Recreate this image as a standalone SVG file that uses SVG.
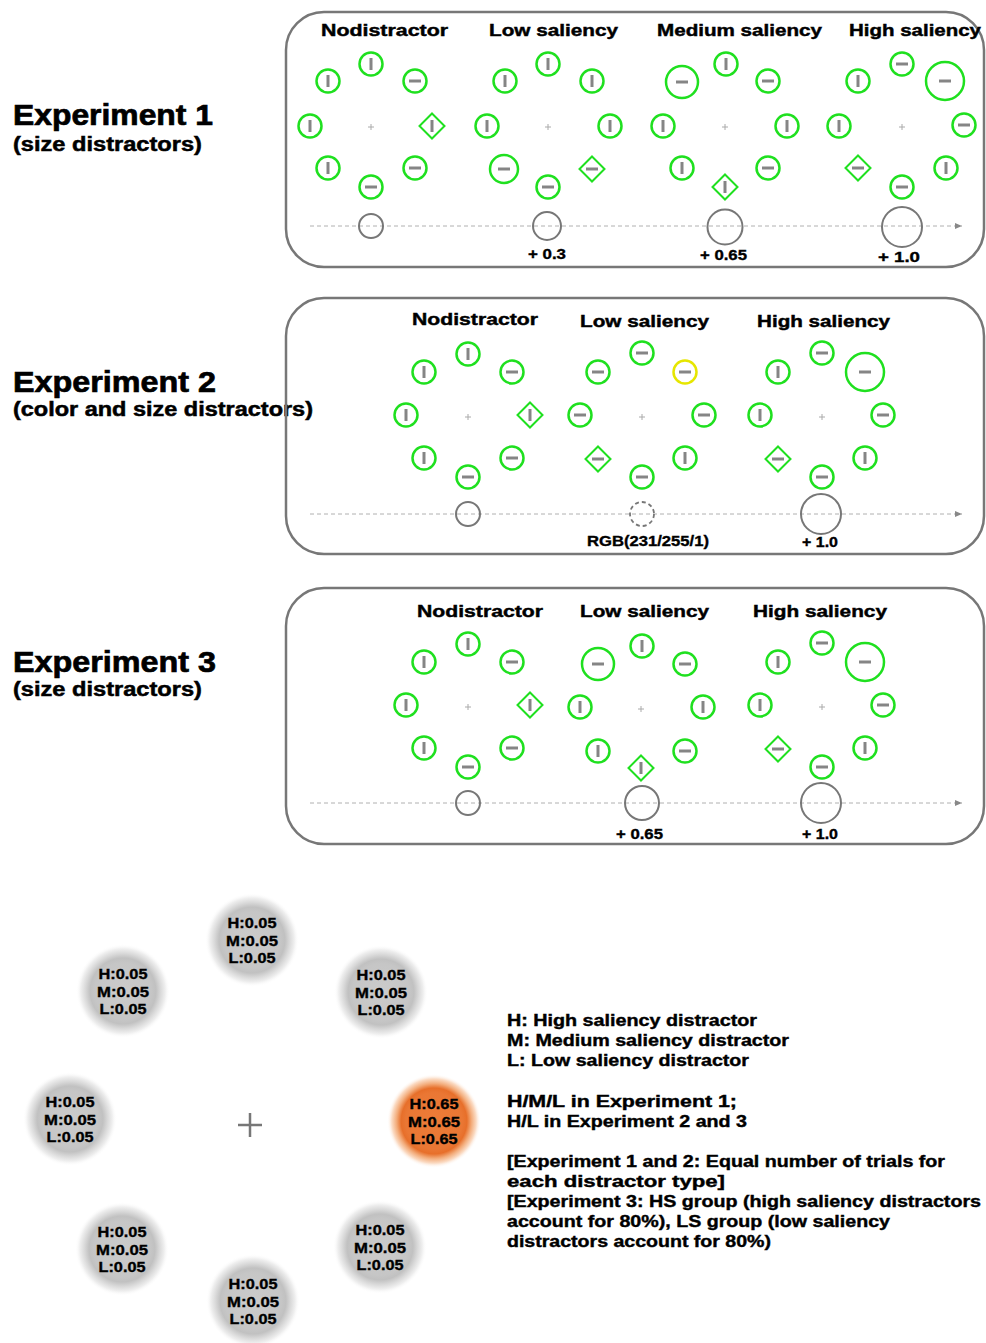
<svg xmlns="http://www.w3.org/2000/svg" xmlns:xlink="http://www.w3.org/1999/xlink" width="986" height="1343" viewBox="0 0 986 1343">
<style>
.g{fill:none;stroke:#1fe01f;stroke-width:2.5}
.gd{fill:none;stroke:#1fe01f;stroke-width:2}
.yl{fill:none;stroke:#e6e600;stroke-width:2.5}
.bar{stroke:#858585;stroke-width:3}
.ax{stroke:#b0b0b0;stroke-width:1;stroke-dasharray:4 3;fill:none}
.ac{fill:none;stroke:#777;stroke-width:2}
.acd{fill:none;stroke:#777;stroke-width:1.8;stroke-dasharray:4 3}
.panel{fill:none;stroke:#777;stroke-width:2.5}
.fx{stroke:#aaa;stroke-width:1}
text{font-family:"Liberation Sans",Arial,sans-serif;font-weight:bold;fill:#000;stroke:#000;stroke-width:0.45}
.t{font-size:17px}
.lb{font-size:14px;stroke-width:0.35}
.big{font-size:29px;stroke-width:0.7}
.sub{font-size:19.5px;stroke-width:0.5}
.bt{font-size:14.5px;text-anchor:middle;stroke-width:0.35}
.nt{font-size:16px;stroke-width:0.4}
</style>
<defs>
<marker id="arr" markerWidth="8" markerHeight="8" refX="7" refY="4" orient="auto" markerUnits="userSpaceOnUse">
<path d="M0,1 L7,4 L0,7 Z" fill="#888"/>
</marker>
<g id="cv"><circle r="11.5" class="g"/><line x1="0" y1="-6" x2="0" y2="6" class="bar"/></g>
<g id="ch"><circle r="11.5" class="g"/><line x1="-6" y1="0" x2="6" y2="0" class="bar"/></g>
<g id="dv"><path d="M0,-12.5 L12.5,0 L0,12.5 L-12.5,0 Z" class="gd"/><line x1="0" y1="-6" x2="0" y2="6" class="bar"/></g>
<g id="dh"><path d="M0,-12.5 L12.5,0 L0,12.5 L-12.5,0 Z" class="gd"/><line x1="-6" y1="0" x2="6" y2="0" class="bar"/></g>
<g id="fx"><line x1="-3" y1="0" x2="3" y2="0" class="fx"/><line x1="0" y1="-3" x2="0" y2="3" class="fx"/></g>
<radialGradient id="gb">
<stop offset="0" stop-color="#cbcbcb"/>
<stop offset="0.6" stop-color="#c6c6c6"/>
<stop offset="0.7" stop-color="#c1c1c1"/>
<stop offset="0.8" stop-color="#d9d9d9"/>
<stop offset="0.9" stop-color="#efefef"/>
<stop offset="1" stop-color="#ffffff" stop-opacity="0"/>
</radialGradient>
<radialGradient id="ob">
<stop offset="0" stop-color="#ec7c38"/>
<stop offset="0.6" stop-color="#ea7734"/>
<stop offset="0.7" stop-color="#e76f2a"/>
<stop offset="0.8" stop-color="#f3ad7c"/>
<stop offset="0.9" stop-color="#fbdcc5"/>
<stop offset="1" stop-color="#ffffff" stop-opacity="0"/>
</radialGradient>
</defs>

<rect width="986" height="1343" fill="#fff"/>

<!-- Left labels -->
<g id="label-exp1">
<text class="big" x="13" y="125" textLength="200" lengthAdjust="spacingAndGlyphs">Experiment 1</text>
<text class="sub" x="13" y="151" textLength="189" lengthAdjust="spacingAndGlyphs">(size distractors)</text>
</g>
<g id="label-exp2">
<text class="big" x="13" y="392" textLength="203" lengthAdjust="spacingAndGlyphs">Experiment 2</text>
<text class="sub" x="13" y="416" textLength="300" lengthAdjust="spacingAndGlyphs">(color and size distractors)</text>
</g>
<g id="label-exp3">
<text class="big" x="13" y="672" textLength="203" lengthAdjust="spacingAndGlyphs">Experiment 3</text>
<text class="sub" x="13" y="696" textLength="189" lengthAdjust="spacingAndGlyphs">(size distractors)</text>
</g>

<!-- Panels -->
<rect id="panel1" class="panel" x="286" y="12" width="698" height="255" rx="38" ry="38"/>
<rect id="panel2" class="panel" x="286" y="298" width="698" height="256" rx="38" ry="38"/>
<rect id="panel3" class="panel" x="286" y="588" width="698" height="256" rx="38" ry="38"/>

<!-- Axes (connectors) -->
<g id="connectors">
<line class="ax" x1="310" y1="226" x2="962" y2="226" marker-end="url(#arr)"/>
<line class="ax" x1="310" y1="514" x2="962" y2="514" marker-end="url(#arr)"/>
<line class="ax" x1="310" y1="803" x2="962" y2="803" marker-end="url(#arr)"/>
</g>

<!-- Experiment 1 -->
<g id="e1-nodistractor">
<text class="t" x="321" y="36" textLength="127" lengthAdjust="spacingAndGlyphs">Nodistractor</text>
<use xlink:href="#fx" x="371" y="127"/>
<use xlink:href="#cv" x="371" y="64"/>
<use xlink:href="#cv" x="328" y="81"/>
<use xlink:href="#ch" x="415" y="81"/>
<use xlink:href="#cv" x="310" y="126"/>
<use xlink:href="#dv" x="432" y="126"/>
<use xlink:href="#cv" x="328" y="168"/>
<use xlink:href="#ch" x="415" y="168"/>
<use xlink:href="#ch" x="371" y="187"/>
<circle class="ac" cx="371" cy="226" r="12"/>
</g>
<g id="e1-low">
<text class="t" x="489" y="36" textLength="129" lengthAdjust="spacingAndGlyphs">Low saliency</text>
<use xlink:href="#fx" x="548" y="127"/>
<use xlink:href="#cv" x="548" y="64"/>
<use xlink:href="#cv" x="505" y="81"/>
<use xlink:href="#cv" x="592" y="81"/>
<use xlink:href="#cv" x="487" y="126"/>
<use xlink:href="#cv" x="610" y="126"/>
<g><circle class="g" cx="504" cy="169" r="14"/><line class="bar" x1="498" y1="169" x2="510" y2="169"/></g>
<use xlink:href="#dh" x="592" y="169"/>
<use xlink:href="#ch" x="548" y="187"/>
<circle class="ac" cx="547" cy="226" r="14"/>
<text class="lb" x="528" y="259" textLength="38" lengthAdjust="spacingAndGlyphs">+ 0.3</text>
</g>
<g id="e1-medium">
<text class="t" x="657" y="36" textLength="165" lengthAdjust="spacingAndGlyphs">Medium saliency</text>
<use xlink:href="#fx" x="725" y="127"/>
<use xlink:href="#cv" x="726" y="64"/>
<g><circle class="g" cx="682" cy="82" r="16"/><line class="bar" x1="676" y1="82" x2="688" y2="82"/></g>
<use xlink:href="#ch" x="768" y="81"/>
<use xlink:href="#cv" x="663" y="126"/>
<use xlink:href="#cv" x="787" y="126"/>
<use xlink:href="#cv" x="682" y="168"/>
<use xlink:href="#ch" x="768" y="168"/>
<use xlink:href="#dv" x="725" y="187"/>
<circle class="ac" cx="725" cy="227" r="17.5"/>
<text class="lb" x="700" y="260" textLength="47" lengthAdjust="spacingAndGlyphs">+ 0.65</text>
</g>
<g id="e1-high">
<text class="t" x="849" y="36" textLength="132" lengthAdjust="spacingAndGlyphs">High saliency</text>
<use xlink:href="#fx" x="902" y="127"/>
<use xlink:href="#ch" x="902" y="64"/>
<use xlink:href="#cv" x="858" y="81"/>
<g><circle class="g" cx="945" cy="81" r="19"/><line class="bar" x1="939" y1="81" x2="951" y2="81"/></g>
<use xlink:href="#cv" x="839" y="126"/>
<use xlink:href="#ch" x="964" y="125"/>
<use xlink:href="#dh" x="858" y="168"/>
<use xlink:href="#cv" x="946" y="168"/>
<use xlink:href="#ch" x="902" y="187"/>
<circle class="ac" cx="902" cy="227" r="20"/>
<text class="lb" x="878" y="262" textLength="42" lengthAdjust="spacingAndGlyphs">+ 1.0</text>
</g>

<!-- Experiment 2 -->
<g id="e2-nodistractor">
<text class="t" x="412" y="325" textLength="126" lengthAdjust="spacingAndGlyphs">Nodistractor</text>
<use xlink:href="#fx" x="468" y="417"/>
<use xlink:href="#cv" x="468" y="354"/>
<use xlink:href="#cv" x="424" y="372"/>
<use xlink:href="#ch" x="512" y="372"/>
<use xlink:href="#cv" x="406" y="415"/>
<use xlink:href="#dv" x="530" y="415"/>
<use xlink:href="#cv" x="424" y="458"/>
<use xlink:href="#ch" x="512" y="458"/>
<use xlink:href="#ch" x="468" y="477"/>
<circle class="ac" cx="468" cy="514" r="12"/>
</g>
<g id="e2-low">
<text class="t" x="580" y="327" textLength="129" lengthAdjust="spacingAndGlyphs">Low saliency</text>
<use xlink:href="#fx" x="642" y="417"/>
<use xlink:href="#ch" x="642" y="353"/>
<use xlink:href="#ch" x="598" y="372"/>
<g><circle class="yl" cx="685" cy="372" r="11.5"/><line class="bar" x1="679" y1="372" x2="691" y2="372"/></g>
<use xlink:href="#ch" x="580" y="415"/>
<use xlink:href="#ch" x="704" y="415"/>
<use xlink:href="#dh" x="598" y="459"/>
<use xlink:href="#cv" x="685" y="458"/>
<use xlink:href="#ch" x="642" y="477"/>
<circle class="acd" cx="642" cy="514" r="12"/>
<text class="lb" x="587" y="546" textLength="122" lengthAdjust="spacingAndGlyphs">RGB(231/255/1)</text>
</g>
<g id="e2-high">
<text class="t" x="757" y="327" textLength="133" lengthAdjust="spacingAndGlyphs">High saliency</text>
<use xlink:href="#fx" x="822" y="417"/>
<use xlink:href="#ch" x="822" y="353"/>
<use xlink:href="#cv" x="778" y="372"/>
<g><circle class="g" cx="865" cy="372" r="19"/><line class="bar" x1="859" y1="372" x2="871" y2="372"/></g>
<use xlink:href="#cv" x="760" y="415"/>
<use xlink:href="#ch" x="883" y="415"/>
<use xlink:href="#dh" x="778" y="459"/>
<use xlink:href="#cv" x="865" y="458"/>
<use xlink:href="#ch" x="822" y="477"/>
<circle class="ac" cx="821" cy="514" r="20"/>
<text class="lb" x="802" y="547" textLength="36" lengthAdjust="spacingAndGlyphs">+ 1.0</text>
</g>

<!-- Experiment 3 -->
<g id="e3-nodistractor">
<text class="t" x="417" y="617" textLength="126" lengthAdjust="spacingAndGlyphs">Nodistractor</text>
<use xlink:href="#fx" x="468" y="707"/>
<use xlink:href="#cv" x="468" y="644"/>
<use xlink:href="#cv" x="424" y="662"/>
<use xlink:href="#ch" x="512" y="662"/>
<use xlink:href="#cv" x="406" y="705"/>
<use xlink:href="#dv" x="530" y="705"/>
<use xlink:href="#cv" x="424" y="748"/>
<use xlink:href="#ch" x="512" y="748"/>
<use xlink:href="#ch" x="468" y="767"/>
<circle class="ac" cx="468" cy="803" r="12"/>
</g>
<g id="e3-low">
<text class="t" x="580" y="617" textLength="129" lengthAdjust="spacingAndGlyphs">Low saliency</text>
<use xlink:href="#fx" x="641" y="709"/>
<use xlink:href="#cv" x="642" y="646"/>
<g><circle class="g" cx="598" cy="664" r="16"/><line class="bar" x1="592" y1="664" x2="604" y2="664"/></g>
<use xlink:href="#ch" x="685" y="664"/>
<use xlink:href="#cv" x="580" y="707"/>
<use xlink:href="#cv" x="703" y="707"/>
<use xlink:href="#cv" x="598" y="751"/>
<use xlink:href="#ch" x="685" y="751"/>
<use xlink:href="#dv" x="641" y="768"/>
<circle class="ac" cx="642" cy="803" r="17"/>
<text class="lb" x="616" y="839" textLength="47" lengthAdjust="spacingAndGlyphs">+ 0.65</text>
</g>
<g id="e3-high">
<text class="t" x="753" y="617" textLength="134" lengthAdjust="spacingAndGlyphs">High saliency</text>
<use xlink:href="#fx" x="822" y="707"/>
<use xlink:href="#ch" x="822" y="643"/>
<use xlink:href="#cv" x="778" y="662"/>
<g><circle class="g" cx="865" cy="662" r="19"/><line class="bar" x1="859" y1="662" x2="871" y2="662"/></g>
<use xlink:href="#cv" x="760" y="705"/>
<use xlink:href="#ch" x="883" y="705"/>
<use xlink:href="#dh" x="778" y="749"/>
<use xlink:href="#cv" x="865" y="748"/>
<use xlink:href="#ch" x="822" y="767"/>
<circle class="ac" cx="821" cy="803" r="20"/>
<text class="lb" x="802" y="839" textLength="36" lengthAdjust="spacingAndGlyphs">+ 1.0</text>
</g>

<!-- Bottom probability layout -->
<g id="fixation">
<line x1="238" y1="1125" x2="262" y2="1125" stroke="#777" stroke-width="2.5"/>
<line x1="250" y1="1113" x2="250" y2="1137" stroke="#777" stroke-width="2.5"/>
</g>
<g id="blob-top">
<circle cx="252" cy="940" r="47" fill="url(#gb)"/>
<text class="bt" x="252" y="928" textLength="49" lengthAdjust="spacingAndGlyphs">H:0.05</text>
<text class="bt" x="252" y="946" textLength="52" lengthAdjust="spacingAndGlyphs">M:0.05</text>
<text class="bt" x="252" y="963" textLength="47" lengthAdjust="spacingAndGlyphs">L:0.05</text>
</g>
<g id="blob-upper-left">
<circle cx="123" cy="991" r="47" fill="url(#gb)"/>
<text class="bt" x="123" y="979" textLength="49" lengthAdjust="spacingAndGlyphs">H:0.05</text>
<text class="bt" x="123" y="997" textLength="52" lengthAdjust="spacingAndGlyphs">M:0.05</text>
<text class="bt" x="123" y="1014" textLength="47" lengthAdjust="spacingAndGlyphs">L:0.05</text>
</g>
<g id="blob-upper-right">
<circle cx="381" cy="992" r="47" fill="url(#gb)"/>
<text class="bt" x="381" y="980" textLength="49" lengthAdjust="spacingAndGlyphs">H:0.05</text>
<text class="bt" x="381" y="998" textLength="52" lengthAdjust="spacingAndGlyphs">M:0.05</text>
<text class="bt" x="381" y="1015" textLength="47" lengthAdjust="spacingAndGlyphs">L:0.05</text>
</g>
<g id="blob-left">
<circle cx="70" cy="1119" r="47" fill="url(#gb)"/>
<text class="bt" x="70" y="1107" textLength="49" lengthAdjust="spacingAndGlyphs">H:0.05</text>
<text class="bt" x="70" y="1125" textLength="52" lengthAdjust="spacingAndGlyphs">M:0.05</text>
<text class="bt" x="70" y="1142" textLength="47" lengthAdjust="spacingAndGlyphs">L:0.05</text>
</g>
<g id="blob-right">
<circle cx="434" cy="1121" r="47" fill="url(#ob)"/>
<text class="bt" x="434" y="1109" textLength="49" lengthAdjust="spacingAndGlyphs">H:0.65</text>
<text class="bt" x="434" y="1127" textLength="52" lengthAdjust="spacingAndGlyphs">M:0.65</text>
<text class="bt" x="434" y="1144" textLength="47" lengthAdjust="spacingAndGlyphs">L:0.65</text>
</g>
<g id="blob-lower-left">
<circle cx="122" cy="1249" r="47" fill="url(#gb)"/>
<text class="bt" x="122" y="1237" textLength="49" lengthAdjust="spacingAndGlyphs">H:0.05</text>
<text class="bt" x="122" y="1255" textLength="52" lengthAdjust="spacingAndGlyphs">M:0.05</text>
<text class="bt" x="122" y="1272" textLength="47" lengthAdjust="spacingAndGlyphs">L:0.05</text>
</g>
<g id="blob-lower-right">
<circle cx="380" cy="1247" r="47" fill="url(#gb)"/>
<text class="bt" x="380" y="1235" textLength="49" lengthAdjust="spacingAndGlyphs">H:0.05</text>
<text class="bt" x="380" y="1253" textLength="52" lengthAdjust="spacingAndGlyphs">M:0.05</text>
<text class="bt" x="380" y="1270" textLength="47" lengthAdjust="spacingAndGlyphs">L:0.05</text>
</g>
<g id="blob-bottom">
<circle cx="253" cy="1301" r="47" fill="url(#gb)"/>
<text class="bt" x="253" y="1289" textLength="49" lengthAdjust="spacingAndGlyphs">H:0.05</text>
<text class="bt" x="253" y="1307" textLength="52" lengthAdjust="spacingAndGlyphs">M:0.05</text>
<text class="bt" x="253" y="1324" textLength="47" lengthAdjust="spacingAndGlyphs">L:0.05</text>
</g>

<!-- Notes -->
<g id="notes">
<text class="nt" x="507" y="1026" textLength="250" lengthAdjust="spacingAndGlyphs">H: High saliency distractor</text>
<text class="nt" x="507" y="1046" textLength="282" lengthAdjust="spacingAndGlyphs">M: Medium saliency distractor</text>
<text class="nt" x="507" y="1066" textLength="242" lengthAdjust="spacingAndGlyphs">L: Low saliency distractor</text>
<text class="nt" x="507" y="1107" textLength="230" lengthAdjust="spacingAndGlyphs">H/M/L in Experiment 1;</text>
<text class="nt" x="507" y="1127" textLength="240" lengthAdjust="spacingAndGlyphs">H/L in Experiment 2 and 3</text>
<text class="nt" x="507" y="1167" textLength="438" lengthAdjust="spacingAndGlyphs">[Experiment 1 and 2: Equal number of trials for</text>
<text class="nt" x="507" y="1187" textLength="218" lengthAdjust="spacingAndGlyphs">each distractor type]</text>
<text class="nt" x="507" y="1207" textLength="474" lengthAdjust="spacingAndGlyphs">[Experiment 3: HS group (high saliency distractors</text>
<text class="nt" x="507" y="1227" textLength="383" lengthAdjust="spacingAndGlyphs">account for 80%), LS group (low saliency</text>
<text class="nt" x="507" y="1247" textLength="264" lengthAdjust="spacingAndGlyphs">distractors account for 80%)</text>
</g>
</svg>
